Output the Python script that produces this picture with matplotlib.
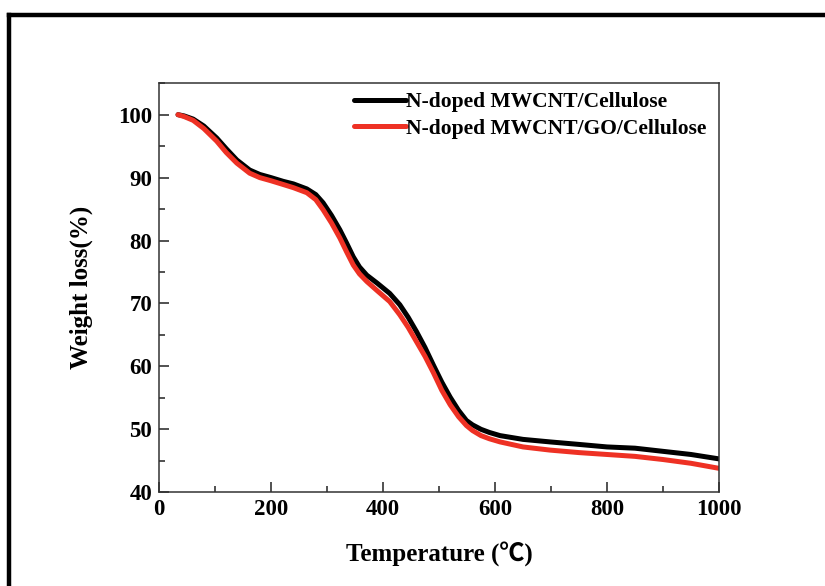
import matplotlib
matplotlib.use("Agg")
import matplotlib.pyplot as plt
from matplotlib.lines import Line2D
from matplotlib.ticker import MultipleLocator

plt.rcParams['font.family'] = ['Liberation Serif', 'Noto Sans CJK SC', 'DejaVu Sans']

temp_black = [34, 45, 61, 80, 103, 120, 139, 162, 180, 200, 222, 240, 264, 280, 293,
              308, 323, 335, 347, 358, 371, 390, 412, 430, 445, 460, 475, 490, 505,
              520, 535, 549, 560, 575, 590, 609, 650, 698, 750, 800, 850, 900, 950, 1000]
weight_black = [100, 99.8, 99.3, 98.2, 96.3, 94.6, 92.8, 91.2, 90.5, 90.0, 89.4, 89.0,
                88.2, 87.3, 86.0, 84.0, 81.7, 79.6, 77.4, 75.8, 74.5, 73.2, 71.6, 69.8,
                67.8, 65.5, 63.0, 60.2, 57.5, 55.1, 53.0, 51.4, 50.7, 50.0, 49.5, 49.0,
                48.4, 48.0, 47.6, 47.2, 47.0, 46.5, 46.0, 45.3]

temp_red = [34, 45, 61, 80, 103, 120, 139, 162, 180, 200, 222, 240, 264, 280, 293,
            308, 323, 335, 347, 358, 371, 390, 412, 430, 445, 460, 475, 490, 505,
            520, 535, 549, 560, 575, 590, 609, 650, 698, 750, 800, 850, 900, 950, 1000]
weight_red = [100, 99.7, 99.1, 97.8, 95.8, 94.0, 92.3, 90.7, 90.0, 89.5, 88.9, 88.4,
              87.6, 86.5, 84.9, 82.8, 80.4, 78.2, 76.1, 74.7, 73.5, 72.0, 70.3, 68.2,
              66.2, 63.9, 61.6, 59.0, 56.2, 53.9, 52.0, 50.6, 49.8, 49.0, 48.5, 48.0,
              47.2, 46.7, 46.3, 46.0, 45.7, 45.2, 44.6, 43.8]

labels = ["N-doped MWCNT/Cellulose", "N-doped MWCNT/GO/Cellulose"]

fig = plt.figure(figsize=(8.25, 5.86), dpi=100)
ax = fig.add_axes([0.1927, 0.160, 0.6788, 0.698])

ax.plot(temp_black, weight_black, color='black', lw=3.6, label=labels[0],
        solid_capstyle='round', solid_joinstyle='round')
ax.plot(temp_red, weight_red, color='#ee3124', lw=3.6, label=labels[1],
        solid_capstyle='round', solid_joinstyle='round')

ax.set_xlim(0, 1000)
ax.set_ylim(40, 105)
ax.xaxis.set_major_locator(MultipleLocator(200))
ax.xaxis.set_minor_locator(MultipleLocator(100))
ax.yaxis.set_major_locator(MultipleLocator(10))
ax.yaxis.set_minor_locator(MultipleLocator(5))
ax.tick_params(which='both', direction='in', top=False, right=False, width=1.1,
               color='#222222')
ax.tick_params(which='major', length=7, labelsize=16.5, pad=5)
ax.tick_params(which='minor', length=4)
for lab in ax.get_xticklabels() + ax.get_yticklabels():
    lab.set_fontweight('bold')
for sp in ax.spines.values():
    sp.set_linewidth(1.1)
    sp.set_color('#333333')

ax.set_xlabel("Temperature (℃)", fontsize=18, fontweight='bold', labelpad=16)
ax.set_ylabel("Weight loss(%)", fontsize=18, fontweight='bold', labelpad=18)

leg = ax.legend(loc='upper right', bbox_to_anchor=(1.0, 1.01), frameon=False,
                prop={'weight': 'bold', 'size': 15.5}, handlelength=2.4,
                handletextpad=0.0, labelspacing=0.3, borderaxespad=0.2)

# outer frame (top and left lines)
fig.add_artist(Line2D([0.011, 1.0], [0.974, 0.974], color='black', lw=3.2,
                      transform=fig.transFigure))
fig.add_artist(Line2D([0.011, 0.011], [0.0, 0.974], color='black', lw=3.2,
                      transform=fig.transFigure))

fig.savefig("out.png", dpi=100)
